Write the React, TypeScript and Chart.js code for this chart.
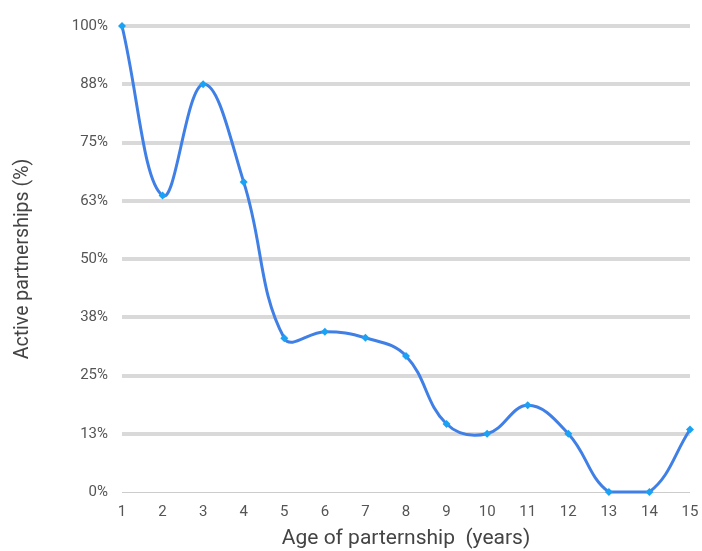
import React, { useEffect, useRef } from "react";
import { Chart, registerables } from "chart.js";

Chart.register(...registerables);

const categories = ["1", "2", "3", "4", "5", "6", "7", "8", "9", "10", "11", "12", "13", "14", "15"];
const activePct = [100, 63.6, 87.5, 66.5, 33.0, 34.4, 33.1, 29.2, 14.6, 12.5, 18.6, 12.5, 0, 0, 13.4];
const yTickLabels: Record<number, string> = {
  0: "0%", 12.5: "13%", 25: "25%", 37.5: "38%", 50: "50%", 62.5: "63%", 75: "75%", 87.5: "88%", 100: "100%",
};

export default function App() {
  const ref = useRef<HTMLCanvasElement | null>(null);
  useEffect(() => {
    if (!ref.current) return;
    const chart = new Chart(ref.current, {
      type: "line",
      data: {
        labels: categories,
        datasets: [
          {
            data: activePct,
            borderColor: "#3f7fe6",
            borderWidth: 3,
            tension: 0.4,
            pointStyle: "rectRot",
            pointRadius: 4,
            pointBackgroundColor: "#1aa3f5",
            pointBorderColor: "#1aa3f5",
            pointBorderWidth: 0,
            fill: false,
            clip: false as any,
          },
        ],
      },
      options: {
        animation: false,
        responsive: false,
        maintainAspectRatio: false,
        layout: { padding: { left: 0, right: 12, top: 26, bottom: 0 } },
        plugins: { legend: { display: false }, tooltip: { enabled: false } },
        scales: {
          x: {
            offset: false,
            grid: { display: false, drawTicks: false },
            border: { display: false },
            ticks: { color: "#555", font: { family: "Roboto", size: 15 }, padding: 11, maxRotation: 0 },
            title: {
              display: true,
              text: "Age of parternship  (years)",
              color: "#444",
              font: { family: "Roboto", size: 21 },
              padding: 0,
            },
            afterFit: (s: any) => {
              s.height = 59;
              s.paddingLeft = 0;
              s.paddingRight = 0;
            },
          },
          y: {
            min: 0,
            max: 100,
            afterBuildTicks: (s: any) => {
              s.ticks = Object.keys(yTickLabels).map((k) => ({ value: Number(k) }));
            },
            grid: {
              color: (ctx: any) => (ctx.tick && ctx.tick.value === 0 ? "#cccccc" : "#d9d9d9"),
              lineWidth: (ctx: any) => (ctx.tick && ctx.tick.value === 0 ? 1 : 4),
              drawTicks: false,
            },
            border: { display: false },
            ticks: {
              color: "#555",
              font: { family: "Roboto", size: 15 },
              padding: 14,
              callback: (v: any) => yTickLabels[Number(v)] ?? "",
            },
            title: {
              display: true,
              text: "Active partnerships (%)",
              color: "#444",
              font: { family: "Roboto", size: 19.5 },
              padding: { top: 11, bottom: 0 },
            },
            afterFit: (s: any) => {
              s.width = 122;
              s.paddingTop = 0;
              s.paddingBottom = 0;
            },
          },
        },
      },
    });
    return () => chart.destroy();
  }, []);
  return (
    <div style={{ position: "fixed", left: 0, top: 0, width: 702, height: 551, background: "#fff" }}>
      <canvas ref={ref} width={702} height={551} style={{ width: 702, height: 551 }} />
    </div>
  );
}
